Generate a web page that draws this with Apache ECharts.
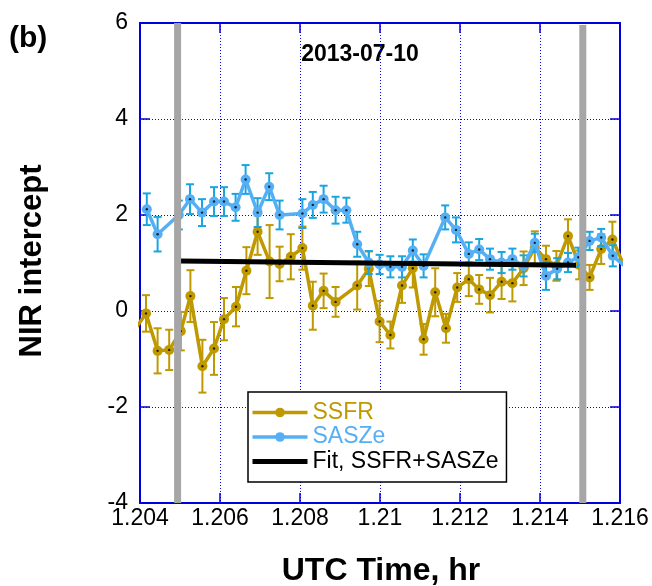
<!DOCTYPE html>
<html>
<head>
<meta charset="utf-8">
<script src="https://cdn.jsdelivr.net/npm/echarts@6/dist/echarts.min.js"></script>
<style>html,body{margin:0;padding:0;background:#fff}#c{width:652px;height:586px}</style>
</head>
<body>
<div id="c"></div>
<script>
// ---- data ----
const xTicks = [1.204, 1.206, 1.208, 1.210, 1.212, 1.214, 1.216];
const yTicks = [-4, -2, 0, 2, 4, 6];

const ssfrT = [1.20386, 1.20415, 1.20444, 1.20473, 1.20502, 1.20526, 1.20556, 1.20585, 1.20610, 1.20640,
  1.20666, 1.20694, 1.20724, 1.20749, 1.20777, 1.20806, 1.20832, 1.20859, 1.20889, 1.20943,
  1.20972, 1.20999, 1.21026, 1.21055, 1.21082, 1.21109, 1.21138, 1.21165, 1.21193, 1.21222,
  1.21248, 1.21275, 1.21304, 1.21331, 1.21359, 1.21387, 1.21415, 1.21441, 1.21470, 1.21498,
  1.21524, 1.21553, 1.21581, 1.21610];
const ssfrV = [-0.40, -0.05, -0.83, -0.81, -0.42, 0.31, -1.15, -0.78, -0.17, 0.09,
  0.84, 1.65, 1.03, 0.98, 1.13, 1.31, 0.11, 0.42, 0.19, 0.53,
  0.88, -0.22, -0.50, 0.53, 0.89, -0.59, 0.39, -0.36, 0.49, 0.66,
  0.45, 0.33, 0.61, 0.58, 0.89, 1.32, 1.08, 0.94, 1.56, 0.96,
  0.70, 1.29, 1.49, 0.95];
const ssfrE = [0.40, 0.38, 0.47, 0.42, 0.40, 0.54, 0.55, 0.55, 0.44, 0.41,
  0.49, 0.48, 0.76, 0.36, 0.47, 0.45, 0.50, 0.36, 0.31, 0.50,
  0.36, 0.43, 0.28, 0.36, 0.40, 0.32, 0.50, 0.30, 0.30, 0.35,
  0.30, 0.36, 0.36, 0.38, 0.35, 0.34, 0.28, 0.31, 0.35, 0.30,
  0.26, 0.31, 0.37, 0.30];

const saszeT = [1.20417, 1.20444, 1.20497, 1.20525, 1.20555, 1.20585, 1.20610, 1.20639, 1.20664, 1.20694,
  1.20723, 1.20749, 1.20806, 1.20832, 1.20859, 1.20889, 1.20916, 1.20943, 1.20972, 1.20999,
  1.21026, 1.21055, 1.21082, 1.21109, 1.21163, 1.21190, 1.21222, 1.21248, 1.21275, 1.21304,
  1.21331, 1.21359, 1.21387, 1.21415, 1.21443, 1.21470, 1.21496, 1.21524, 1.21553, 1.21582,
  1.21610];
const saszeV = [2.12, 1.60, 2.00, 2.33, 2.05, 2.28, 2.28, 2.16, 2.74, 2.05,
  2.59, 2.00, 2.03, 2.21, 2.33, 2.10, 2.10, 1.39, 1.01, 0.97,
  0.92, 0.92, 1.26, 0.94, 1.95, 1.69, 1.19, 1.28, 1.08, 1.01,
  1.08, 0.94, 1.42, 0.73, 0.88, 1.01, 1.12, 1.46, 1.53, 1.15,
  0.95];
const saszeE = [0.33, 0.36, 0.30, 0.31, 0.28, 0.30, 0.30, 0.28, 0.30, 0.30,
  0.28, 0.30, 0.30, 0.27, 0.28, 0.28, 0.26, 0.26, 0.24, 0.20,
  0.22, 0.22, 0.23, 0.24, 0.25, 0.26, 0.24, 0.22, 0.22, 0.22,
  0.22, 0.22, 0.19, 0.29, 0.22, 0.20, 0.20, 0.19, 0.18, 0.22,
  0.20];

const fitT = [1.2050, 1.2149];
const fitV = [1.04, 0.955];

const boundaryT = [1.20494, 1.21507];

// ---- styles ----
const GOLD = '#BF9900';
const BLUE = '#55AFF5';
const BLUE_ERR = '#19A6E0';
const FRAME = '#0000DD';
const FONT = '"Liberation Sans", Arial, sans-serif';

function errSeries(t, v, e, color, z) {
  return {
    type: 'custom', clip: true, z: z, silent: true,
    data: t.map((x, i) => [x, v[i] - e[i], v[i] + e[i]]),
    encode: { x: 0, y: [1, 2] },
    renderItem: function (params, api) {
      const x = api.value(0);
      const lo = api.coord([x, api.value(1)]);
      const hi = api.coord([x, api.value(2)]);
      const w = 4;
      const st = { stroke: color, lineWidth: 2 };
      return {
        type: 'group', children: [
          { type: 'line', shape: { x1: lo[0], y1: lo[1], x2: hi[0], y2: hi[1] }, style: st },
          { type: 'line', shape: { x1: lo[0] - w, y1: lo[1], x2: lo[0] + w, y2: lo[1] }, style: st },
          { type: 'line', shape: { x1: hi[0] - w, y1: hi[1], x2: hi[0] + w, y2: hi[1] }, style: st }
        ]
      };
    }
  };
}
function lineSeries(name, t, v, color, z) {
  return {
    name: name, type: 'line', z: z, clip: true,
    data: t.map((x, i) => [x, v[i]]),
    symbol: 'circle', symbolSize: 10, showSymbol: true,
    itemStyle: { color: color },
    lineStyle: { color: color, width: 3.5 },
    emphasis: { disabled: true }, animation: false
  };
}
function dotSeries(t, v, z) {
  return {
    type: 'scatter', z: z, silent: true, clip: true,
    data: t.map((x, i) => [x, v[i]]),
    symbol: 'circle', symbolSize: 2.4,
    itemStyle: { color: '#000' }
  };
}

const chart = echarts.init(document.getElementById('c'), null, { renderer: 'canvas' });
const fmt = v => String(parseFloat(v.toFixed(3)));
const yMin = yTicks[0], yMax = yTicks[yTicks.length - 1];

chart.setOption({
  animation: false,
  backgroundColor: '#fff',
  textStyle: { fontFamily: FONT },
  grid: { left: 140, right: 32, top: 23, bottom: 83, containLabel: false },
  xAxis: [{
    type: 'value', min: xTicks[0], max: xTicks[xTicks.length - 1], interval: xTicks[1] - xTicks[0],
    axisLine: { show: true, onZero: false, lineStyle: { color: FRAME, width: 2 } },
    axisTick: { show: true, inside: true, length: 10, lineStyle: { color: FRAME, width: 1.5 } },
    axisLabel: { fontSize: 23, color: '#000', fontFamily: FONT, margin: 4, formatter: fmt },
    splitLine: { show: true, lineStyle: { color: '#0000FF', type: [1, 2], width: 1 } }
  }, {
    type: 'value', position: 'top', min: xTicks[0], max: xTicks[xTicks.length - 1], interval: xTicks[1] - xTicks[0],
    axisLine: { show: true, onZero: false, lineStyle: { color: FRAME, width: 2 } },
    axisTick: { show: true, inside: true, length: 10, lineStyle: { color: FRAME, width: 1.5 } },
    axisLabel: { show: false }, splitLine: { show: false }
  }],
  yAxis: [{
    type: 'value', min: yMin, max: yMax, interval: yTicks[1] - yTicks[0],
    axisLine: { show: true, onZero: false, lineStyle: { color: FRAME, width: 2 } },
    axisTick: { show: true, inside: true, length: 10, lineStyle: { color: FRAME, width: 1.5 } },
    axisLabel: { fontSize: 23, color: '#000', fontFamily: FONT, margin: 12 },
    splitLine: { show: true, lineStyle: { color: '#0000FF', type: [1, 2], width: 1 } }
  }, {
    type: 'value', position: 'right', min: yMin, max: yMax, interval: yTicks[1] - yTicks[0],
    axisLine: { show: true, onZero: false, lineStyle: { color: FRAME, width: 2 } },
    axisTick: { show: true, inside: true, length: 10, lineStyle: { color: FRAME, width: 1.5 } },
    axisLabel: { show: false }, splitLine: { show: false }
  }],
  legend: {
    orient: 'vertical', left: 248, top: 392,
    padding: [9, 8, 9, 2], itemGap: 1.5, itemWidth: 55, itemHeight: 12,
    backgroundColor: '#fff', borderColor: '#000', borderWidth: 1.5, borderRadius: 0,
    textStyle: { fontSize: 23, fontFamily: FONT },
    selectedMode: false,
    data: [
      { name: 'SSFR', textStyle: { color: GOLD }, lineStyle: { width: 3.5 } },
      { name: 'SASZe', textStyle: { color: BLUE }, lineStyle: { width: 3.5 } },
      { name: 'Fit, SSFR+SASZe', textStyle: { color: '#000' }, lineStyle: { width: 5 }, itemStyle: { opacity: 0 } }
    ]
  },
  series: [
    errSeries(ssfrT, ssfrV, ssfrE, GOLD, 2),
    lineSeries('SSFR', ssfrT, ssfrV, GOLD, 3),
    dotSeries(ssfrT, ssfrV, 4),
    errSeries(saszeT, saszeV, saszeE, BLUE_ERR, 5),
    lineSeries('SASZe', saszeT, saszeV, BLUE, 6),
    dotSeries(saszeT, saszeV, 7),
    {
      name: 'Fit, SSFR+SASZe', type: 'line', z: 8,
      data: fitT.map((x, i) => [x, fitV[i]]),
      symbol: 'none', showSymbol: false,
      itemStyle: { color: '#000' },
      lineStyle: { color: '#000', width: 5 }
    },
    {
      type: 'custom', z: 9, silent: true, clip: true,
      data: boundaryT.map(x => [x]),
      encode: { x: 0 },
      renderItem: function (params, api) {
        const x = api.value(0);
        const top = api.coord([x, yMax]);
        const bot = api.coord([x, yMin]);
        return {
          type: 'rect',
          shape: { x: top[0] - 3.5, y: top[1] + (params.dataIndex === 1 ? 2 : 0), width: 7, height: bot[1] - top[1] },
          style: { fill: '#A6A6A6' }
        };
      }
    }
  ],
  graphic: [
    { type: 'text', left: 9, top: 24, style: { text: '(b)', font: 'bold 30px ' + FONT, fill: '#000' } },
    { type: 'text', x: 360, y: 55, style: { text: '2013-07-10', font: 'bold 23px ' + FONT, fill: '#000', textAlign: 'center', textVerticalAlign: 'middle' } },
    { type: 'text', x: 32, y: 261, rotation: Math.PI / 2, style: { text: 'NIR intercept', font: 'bold 31px ' + FONT, fill: '#000', textAlign: 'center', textVerticalAlign: 'middle' } },
    { type: 'text', x: 381, y: 571, style: { text: 'UTC Time, hr', font: 'bold 32px ' + FONT, fill: '#000', textAlign: 'center', textVerticalAlign: 'middle' } }
  ]
});
</script>
</body>
</html>
